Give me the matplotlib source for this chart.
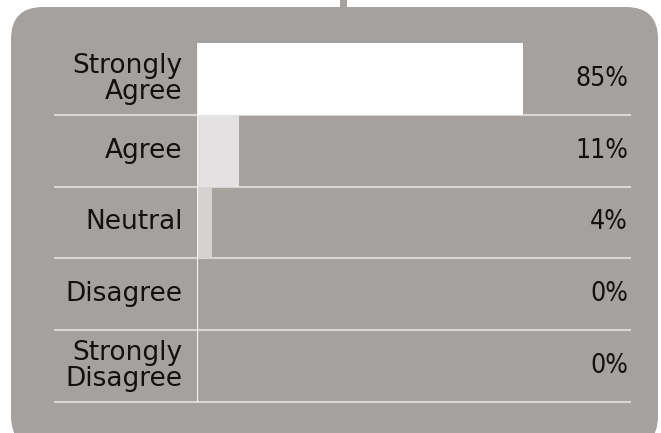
import matplotlib.pyplot as plt
from matplotlib.patches import FancyBboxPatch, Rectangle

categories = ["Strongly\nAgree", "Agree", "Neutral", "Disagree", "Strongly\nDisagree"]
percent = [85, 11, 4, 0, 0]
labels = ["85%", "11%", "4%", "0%", "0%"]
bar_colors = ["#ffffff", "#e3e1e2", "#d3d2d1", "#d3d2d1", "#d3d2d1"]

PANEL = "#a5a19f"
LINE = "#d9d7d6"

fig = plt.figure(figsize=(6.61, 4.33), dpi=100)
fig.patch.set_facecolor("white")

# rounded grey panel (inch coordinates)
panel = FancyBboxPatch((0.11, -0.15), 6.47, 4.41,
                       boxstyle="round,pad=0,rounding_size=0.32",
                       transform=fig.dpi_scale_trans, facecolor=PANEL,
                       edgecolor="none", zorder=-2)
fig.patches.append(panel)
stub = Rectangle((3.40, 4.24), 0.07, 0.10, transform=fig.dpi_scale_trans,
                 facecolor=PANEL, edgecolor="none", zorder=-2)
fig.patches.append(stub)

ax = fig.add_axes([197 / 661, 31 / 433, 384 / 661, 359 / 433])
ax.set_facecolor("none")
ax.set_xlim(0, 100)
ax.set_ylim(len(categories) - 0.5, -0.5)

y = list(range(len(categories)))
ax.barh(y, percent, height=1.0, color=bar_colors, zorder=3)

for i in y:
    # row separator under each row
    ax.plot([-0.37, 1.128], [i + 0.5, i + 0.5], transform=ax.get_yaxis_transform(),
            color=LINE, lw=1.5, clip_on=False, zorder=2)
    ax.text(-0.038, i, categories[i], transform=ax.get_yaxis_transform(),
            ha="right", va="center", fontsize=19, color="#111111",
            linespacing=1.0, family="DejaVu Sans")
    ax.text(1.122, i, labels[i], transform=ax.get_yaxis_transform(),
            ha="right", va="center", fontsize=19, color="#111111",
            family="DejaVu Sans", fontstretch="condensed")

ax.axvline(0, color="#f4f4f4", lw=1.6, zorder=4)

for s in ax.spines.values():
    s.set_visible(False)
ax.set_xticks([])
ax.set_yticks([])

fig.savefig("out.png", dpi=100)
